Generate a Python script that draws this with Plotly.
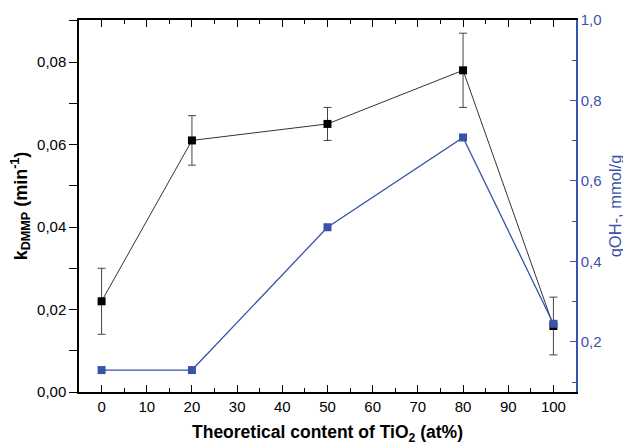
import plotly.graph_objects as go

x_content = [0, 20, 50, 80, 100]
k_dmmp = [0.022, 0.061, 0.065, 0.078, 0.016]
k_err_plus = [0.008, 0.006, 0.004, 0.009, 0.007]
k_err_minus = [0.008, 0.006, 0.004, 0.009, 0.007]
q_oh = [0.130, 0.130, 0.485, 0.708, 0.245]

blue = "#3953a8"

fig = go.Figure()
fig.add_trace(go.Scatter(
    x=x_content, y=k_dmmp, mode="lines+markers",
    line=dict(color="#333333", width=1),
    marker=dict(symbol="square", size=8, color="black"),
    error_y=dict(type="data", array=k_err_plus, arrayminus=k_err_minus,
                 color="#444444", thickness=1, width=4),
    showlegend=False,
))
fig.add_trace(go.Scatter(
    x=x_content, y=q_oh, mode="lines+markers", yaxis="y2",
    line=dict(color=blue, width=1.3),
    marker=dict(symbol="square", size=8, color=blue),
    showlegend=False,
))

font = "Liberation Sans, Arial, sans-serif"
fig.update_layout(
    width=623, height=438,
    margin=dict(l=71, r=55, t=12, b=54, autoexpand=False),
    paper_bgcolor="white", plot_bgcolor="white",
    separators=",.",
    font=dict(family=font, size=15, color="black"),
    xaxis=dict(
        automargin=False,
        range=[-5, 105], tickvals=[0, 10, 20, 30, 40, 50, 60, 70, 80, 90, 100],
        ticks="inside", ticklen=7, tickwidth=1.2, tickcolor="black",
        showline=True, linecolor="black", linewidth=1.5, mirror="ticks",
        showgrid=False, zeroline=False,
        minor=dict(dtick=5, tick0=0, ticks="inside", ticklen=4, tickcolor="black", showgrid=False),
        title=dict(text="<b>Theoretical content of TiO<sub>2</sub> (at%)</b>", font=dict(size=17.5), standoff=12),
    ),
    yaxis=dict(
        automargin=False,
        range=[0, 0.0902], tickvals=[0, 0.02, 0.04, 0.06, 0.08], tickformat=".2f",
        ticks="outside", ticklen=8, tickwidth=1.2, tickcolor="black",
        showline=True, linecolor="black", linewidth=1.5,
        showgrid=False, zeroline=False,
        minor=dict(dtick=0.01, tick0=0, ticks="outside", ticklen=8, tickcolor="black", showgrid=False),
        title=dict(text="<b>k<sub>DMMP</sub> (min<sup>-1</sup>)</b>", font=dict(size=18), standoff=8),
    ),
    yaxis2=dict(
        automargin=False,
        overlaying="y", side="right", anchor="x",
        range=[0.0755, 1.0], tickvals=[0.2, 0.4, 0.6, 0.8, 1.0], tickformat=".1f",
        ticks="inside", ticklen=6, tickwidth=1.2, tickcolor=blue,
        showline=True, linecolor=blue, linewidth=1.5,
        tickfont=dict(color=blue),
        showgrid=False, zeroline=False,
        minor=dict(dtick=0.1, tick0=0, ticks="inside", ticklen=4, tickcolor=blue, showgrid=False),
        title=dict(text="qOH-, mmol/g", font=dict(size=16.5, color=blue), standoff=9),
    ),
)

fig.write_html("out.html")
